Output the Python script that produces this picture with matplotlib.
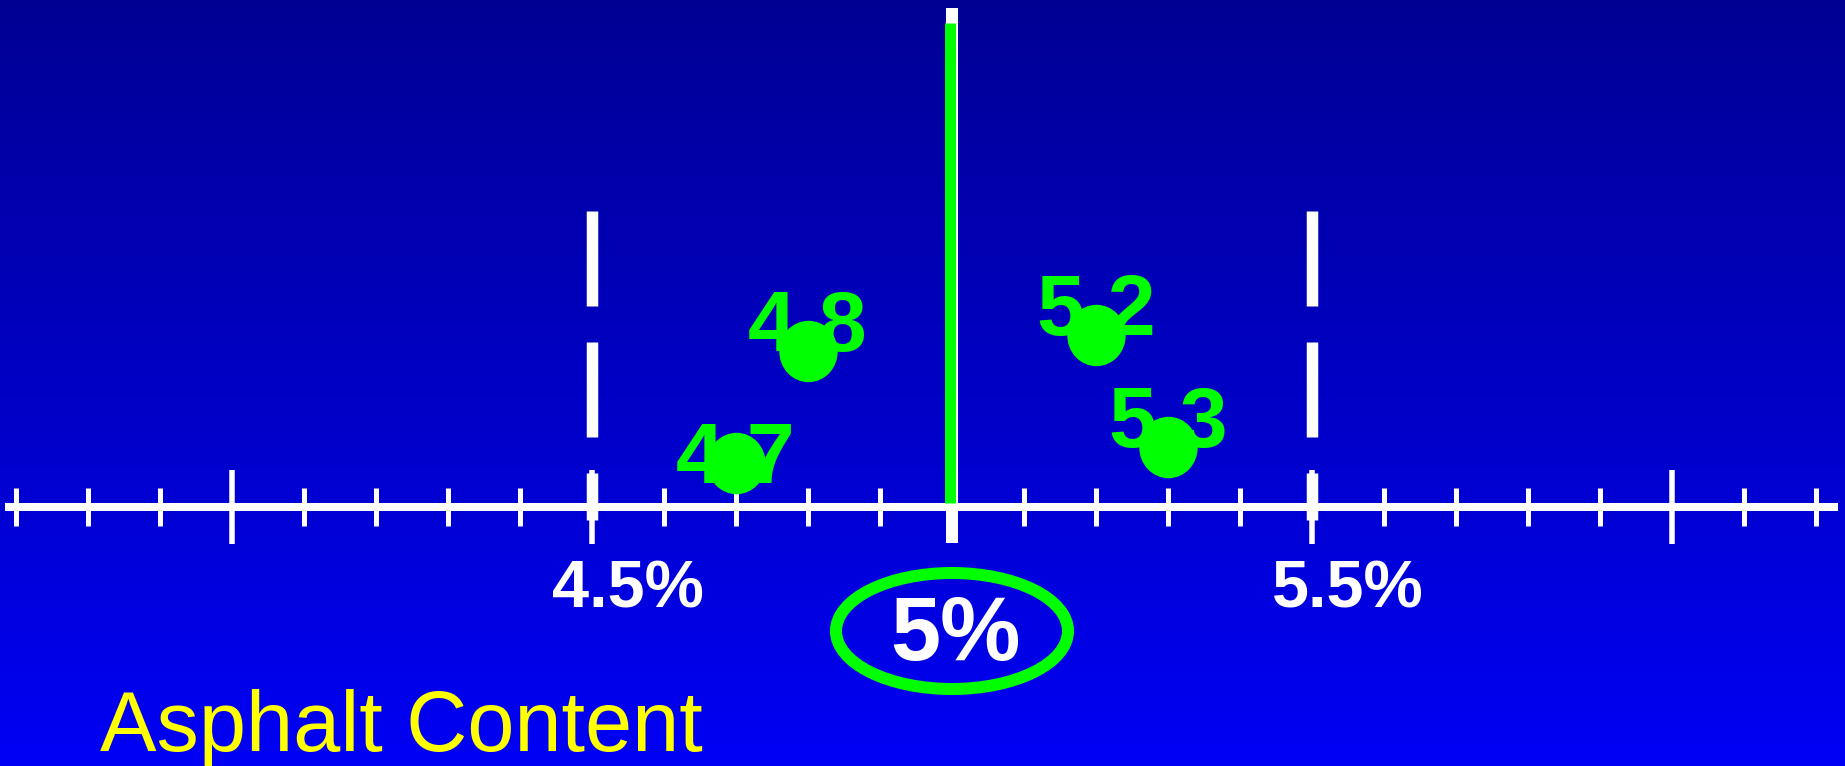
import numpy as np
import matplotlib
matplotlib.use("Agg")
import matplotlib.pyplot as plt
from matplotlib.path import Path
from matplotlib.transforms import Affine2D
from matplotlib.patches import Ellipse

plt.rcParams['font.family'] = ['Liberation Sans', 'DejaVu Sans']
plt.rcParams['lines.scale_dashes'] = False

# asphalt content of the four samples, and how high each dot sits above the scale
samples = [4.7, 4.8, 5.2, 5.3]
sample_labels = ['4.7', '4.8', '5.2', '5.3']
dot_height = [44, 156, 172, 60]
label_drop = [20, 0, 0, 0]

target = 5.0
spec_limits = [4.5, 5.5]
limit_labels = ['4.5%', '5.5%']
major_ticks = [4.0, 4.5, 5.5, 6.0]
minor_ticks = [3.7, 3.8, 3.9, 4.1, 4.2, 4.3, 4.4, 4.6, 4.7, 4.8, 4.9,
               5.1, 5.2, 5.3, 5.4, 5.6, 5.7, 5.8, 5.9, 6.1, 6.2]

W, H, DPI = 1845, 766, 100
px = 72.0 / DPI  # pixels -> points
GREEN = '#00ff00'

fig = plt.figure(figsize=(W / DPI, H / DPI), dpi=DPI)
ax = fig.add_axes([0, 0, 1, 1])
x0, x1 = 5 - 952 / 720, 5 + 893 / 720
y0, y1 = -259, 507
ax.set_xlim(x0, x1)
ax.set_ylim(y0, y1)

# bright blue at the bottom fading to navy at the top
bg = np.zeros((256, 1, 3))
bg[:, 0, 2] = np.linspace(0.96, 0.58, 256)
ax.imshow(bg, extent=[x0, x1, y0, y1], aspect='auto', zorder=0, origin='lower')

# the scale itself: bottom spine moved to y=0
for s in ['left', 'right', 'top']:
    ax.spines[s].set_visible(False)
ax.spines['bottom'].set_position(('data', 0))
ax.spines['bottom'].set_bounds(5 - 943 / 720, 5 + 882 / 720)
ax.spines['bottom'].set_color('white')
ax.spines['bottom'].set_linewidth(8 * px)
ax.spines['bottom'].set_zorder(3)
ax.set_xticks(major_ticks)
ax.set_xticks(minor_ticks, minor=True)
ax.tick_params(axis='x', which='major', direction='inout', length=74 * px,
               width=5.5 * px, color='white', labelbottom=False)
ax.tick_params(axis='x', which='minor', direction='inout', length=38 * px,
               width=5 * px, color='white')
ax.tick_params(axis='y', left=False, labelleft=False)

# target line
ax.plot([target, target], [-36, 499], color='white', lw=12 * px,
        solid_capstyle='butt', zorder=4)
ax.plot([target - 2 / 720] * 2, [4, 484], color=GREEN, lw=11 * px,
        solid_capstyle='butt', zorder=5)

# spec limits
for lim, lab in zip(spec_limits, limit_labels):
    ax.plot([lim, lim], [296, -13], color='white', lw=11.5 * px,
            dashes=(95 * px, 36 * px), zorder=4)
    ax.text(lim + 0.05, -101, lab, color='white', fontsize=48,
            fontweight='bold', ha='center', va='baseline')

# target value in a green ring
ax.add_patch(Ellipse((target, -124), 232 / 720, 116, fill=False,
                     edgecolor=GREEN, lw=12 * px, zorder=4))
ax.text(target + 0.005, -153, '5%', color='white', fontsize=65, fontweight='bold',
        ha='center', va='baseline', zorder=5)

# samples
dot = Path.unit_circle().transformed(Affine2D().scale(0.95, 1.0))
for v, h, lab, d in zip(samples, dot_height, sample_labels, label_drop):
    ax.annotate(lab, (v, h), xytext=(0, -d), textcoords='offset pixels',
                color=GREEN, fontsize=62, fontweight='bold',
                ha='center', va='baseline', zorder=6)
ax.plot(samples, dot_height, linestyle='none', marker=dot,
        markersize=60 * px, color=GREEN, zorder=7)

ax.text(5 - 852 / 720, -244, 'Asphalt Content', color='#ffff00',
        fontsize=61, ha='left', va='baseline')

fig.savefig('out.png', dpi=DPI)
